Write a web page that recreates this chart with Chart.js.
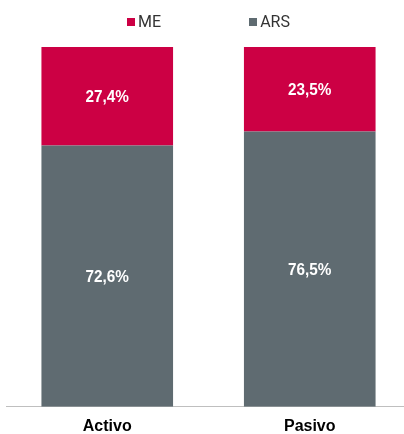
<!DOCTYPE html>
<html>
<head>
<meta charset="utf-8">
<script src="https://cdn.jsdelivr.net/npm/chart.js@4/dist/chart.umd.min.js"></script>
<style>
  html, body { margin: 0; padding: 0; background: #fff; overflow: hidden; }
  #wrap { width: 411px; height: 434px; }
</style>
</head>
<body>
<div id="wrap"><canvas id="chart"></canvas></div>
<script>
// data
var categories = ['Activo', 'Pasivo'];
var arsValues = [72.6, 76.5];
var meValues = [27.4, 23.5];

// value labels in the middle of each bar segment (narrow bold look)
var barLabels = {
    id: 'barLabels',
    afterDatasetsDraw: function(chart) {
        var ctx = chart.ctx;
        ctx.save();
        ctx.fillStyle = '#ffffff';
        ctx.font = 'bold 17px "Liberation Sans", Arial, sans-serif';
        ctx.textAlign = 'center';
        ctx.textBaseline = 'middle';
        chart.data.datasets.forEach(function(ds, i) {
            var meta = chart.getDatasetMeta(i);
            meta.data.forEach(function(bar, j) {
                var mid = (bar.y + bar.base) / 2 + 1;
                ctx.save();
                ctx.translate(bar.x, mid);
                ctx.scale(0.9, 1);
                ctx.fillText(ds.data[j].toFixed(1).replace('.', ',') + '%', 0, 0);
                ctx.restore();
            });
        });
        ctx.restore();
    }
};

// legend on top: ME first, then ARS, centred over the plot area
var topLegend = {
    id: 'topLegend',
    afterDraw: function(chart) {
        var ctx = chart.ctx;
        var area = chart.chartArea;
        var items = chart.data.datasets.slice().reverse();
        var box = 8, gapText = 3, gapItem = 88;
        ctx.save();
        ctx.font = '16px Roboto, sans-serif';
        ctx.textBaseline = 'middle';
        var widths = items.map(function(ds) { return box + gapText + ctx.measureText(ds.label).width; });
        var total = widths.reduce(function(a, b) { return a + b; }, 0) + gapItem * (items.length - 1);
        var x = (area.left + area.right) / 2 - total / 2;
        var y = 21.5;
        items.forEach(function(ds, i) {
            ctx.fillStyle = ds.backgroundColor;
            ctx.fillRect(Math.round(x), Math.round(y - box / 2), box, box);
            ctx.fillStyle = '#333333';
            ctx.fillText(ds.label, x + box + gapText, y + 1);
            x += widths[i] + gapItem;
        });
        ctx.restore();
    }
};

new Chart(document.getElementById('chart'), {
    type: 'bar',
    data: {
        labels: categories,
        datasets: [
            { label: 'ARS', data: arsValues, backgroundColor: '#5f6b71' },
            { label: 'ME', data: meValues, backgroundColor: '#cc0044' }
        ]
    },
    options: {
        responsive: true,
        maintainAspectRatio: false,
        animation: false,
        barPercentage: 0.65,
        categoryPercentage: 1,
        layout: { padding: { left: 6, right: 0, top: 47, bottom: -12 } },
        plugins: {
            legend: { display: false },
            tooltip: { enabled: false }
        },
        scales: {
            x: {
                stacked: true,
                grid: { display: false, drawTicks: false },
                border: { display: true, color: '#bfbfbf', width: 1 },
                ticks: {
                    color: '#000000',
                    padding: 10,
                    font: { family: '"Liberation Sans", Arial, sans-serif', size: 16, weight: 'bold' }
                }
            },
            y: {
                stacked: true,
                display: false,
                min: 0,
                max: 100
            }
        }
    },
    plugins: [barLabels, topLegend]
});
</script>
</body>
</html>
